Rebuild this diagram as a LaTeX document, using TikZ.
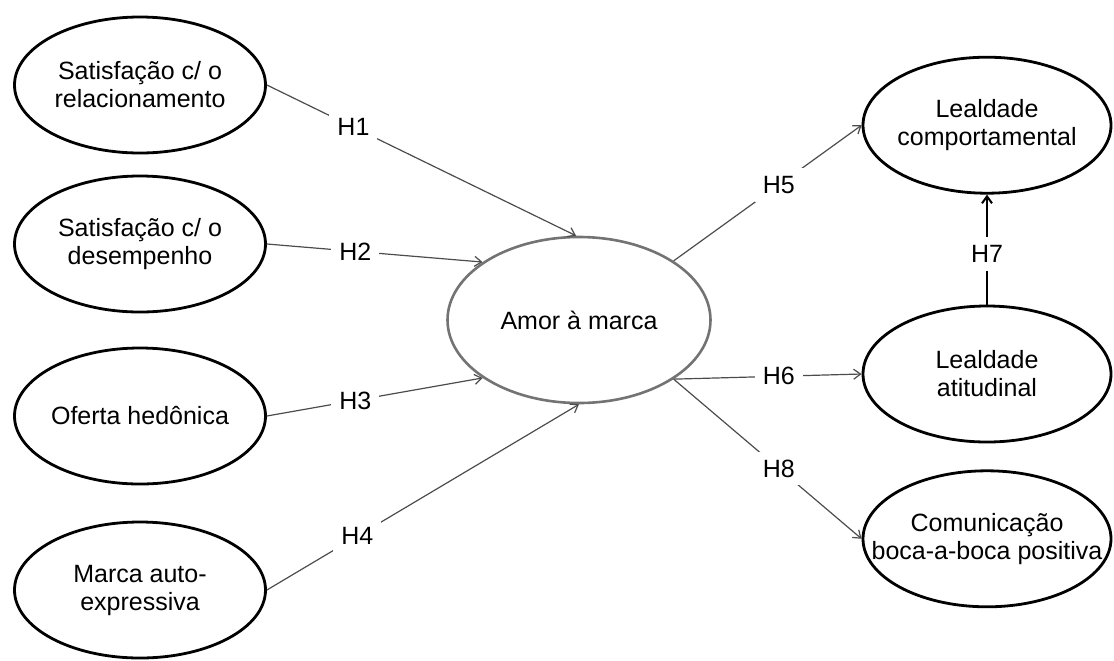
\documentclass[tikz,border=0pt]{standalone}
\usepackage{fontspec}
\setmainfont{Liberation Sans}
\usetikzlibrary{arrows.meta,positioning,shapes.geometric}

\begin{document}
\begin{tikzpicture}[
    x=0.5pt, y=-0.5pt,
    font=\fontsize{12.5}{14}\selectfont,
    construct/.style={draw, ellipse, line width=1.4pt, align=center, inner xsep=-14pt, inner ysep=0pt, minimum width=125.5pt, minimum height=68pt},
    central/.style={draw=black!55, ellipse, line width=1.3pt, align=center, inner sep=0pt, minimum width=131.5pt, minimum height=83pt},
    arr/.style={-{Straight Barb[length=3.5pt,width=5pt]}, draw=black!70, line width=0.6pt},
    solidarr/.style={-{Straight Barb[length=3.5pt,width=5pt]}, line width=1pt},
    hyp/.style={fill=white, inner sep=4pt}
]
\useasboundingbox (0,0) rectangle (1114,660);

% antecedents
\node[construct] (rel) at (140,85) {Satisfação c/ o\\relacionamento};
\node[construct] (des) at (140,244) {Satisfação c/ o\\desempenho};
\node[construct] (ofe) at (140,416) {Oferta hedônica};
\node[construct] (auto) at (140,590) {Marca auto-\\expressiva};

\node[central] (amor) at (579,320) {Amor à marca};

% consequences
\node[construct, minimum width=124pt] (atit) at (987,374) {Lealdade\\atitudinal};
\node[construct, minimum width=124pt, above=55pt of atit] (comp) {Lealdade\\comportamental};
\node[construct, minimum width=124pt, below=13pt of atit] (boca) {Comunicação\\boca-a-boca positiva};

\draw[arr] (rel.east) -- node[hyp, pos=0.28] {H1} (amor.92);
\draw[arr] (des.east) -- node[hyp, pos=0.41] {H2} (amor.149);
\draw[arr] (ofe.east) -- node[hyp, pos=0.41] {H3} (amor.211);
\draw[arr] (auto.east) -- node[hyp, pos=0.29] {H4} (amor.south);
\draw[arr] (amor.32) -- node[hyp, pos=0.56] {H5} (comp.west);
\draw[arr] (amor.328) -- node[hyp, pos=0.56] {H6} (atit.west);
\draw[arr] (amor.328) -- node[hyp, pos=0.56] {H8} (boca.west);
\draw[solidarr] (atit) -- node[hyp, pos=0.46] {H7} (comp);
\end{tikzpicture}
\end{document}
